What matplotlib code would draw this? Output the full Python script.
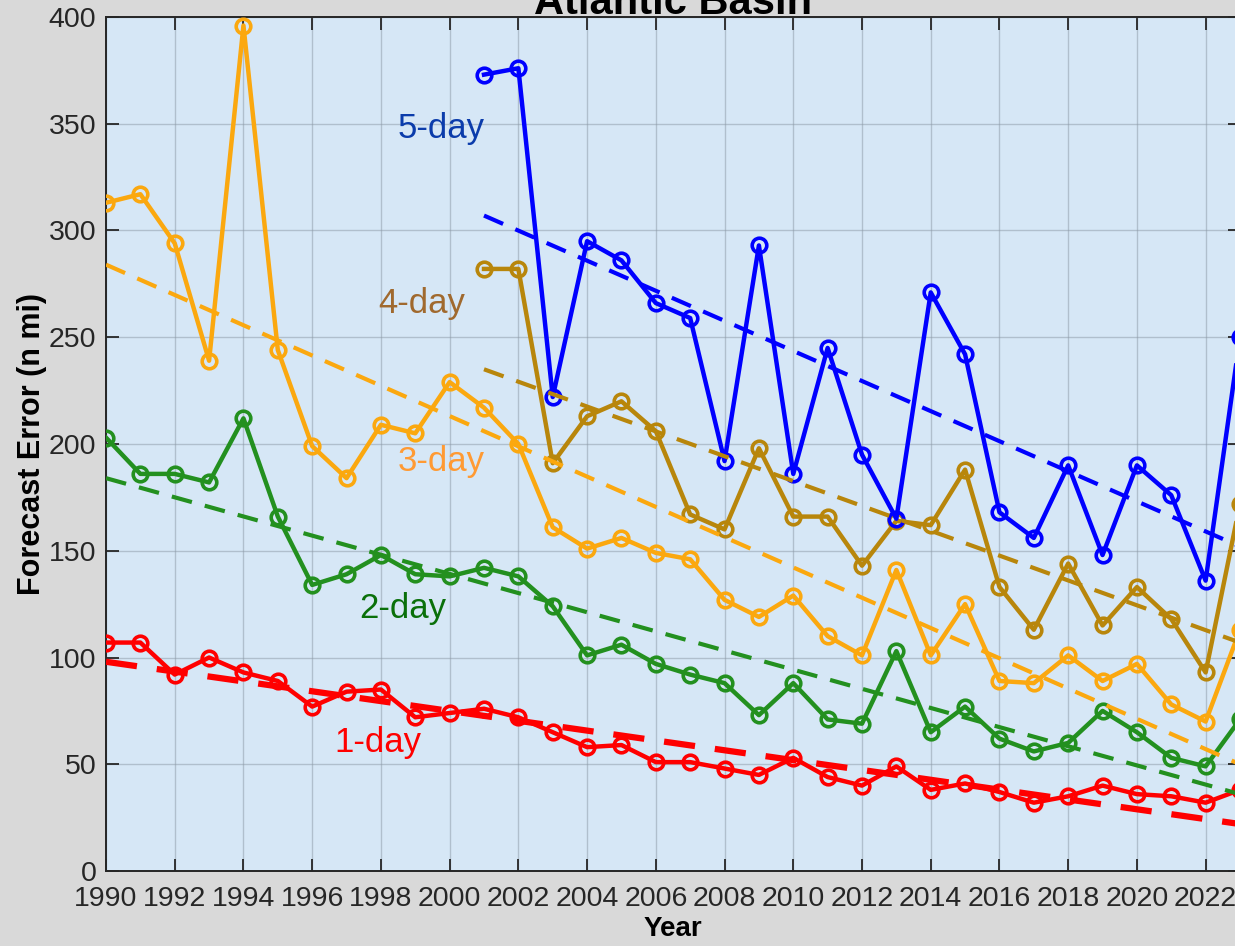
import numpy as np
import matplotlib
matplotlib.use("Agg")
import matplotlib.pyplot as plt

plt.rcParams['font.family'] = ['Liberation Sans', 'DejaVu Sans']

# NHC official track forecast errors, Atlantic basin
years = list(range(1990, 2024))
years_long = list(range(2001, 2024))

err_1day = [107, 107, 92, 100, 93, 89, 77, 84, 85, 72, 74, 76, 72, 65, 58, 59,
            51, 51, 48, 45, 53, 44, 40, 49, 38, 41, 37, 32, 35, 40, 36, 35, 32, 38]
err_2day = [203, 186, 186, 182, 212, 166, 134, 139, 148, 139, 138, 142, 138, 124, 101, 106,
            97, 92, 88, 73, 88, 71, 69, 103, 65, 77, 62, 56, 60, 75, 65, 53, 49, 71]
err_3day = [313, 317, 294, 239, 396, 244, 199, 184, 209, 205, 229, 217, 200, 161, 151, 156,
            149, 146, 127, 119, 129, 110, 101, 141, 101, 125, 89, 88, 101, 89, 97, 78, 70, 113]
err_4day = [282, 282, 191, 213, 220, 206, 167, 160, 198, 166, 166, 143, 164, 162, 188, 133,
            113, 144, 115, 133, 118, 93, 172]
err_5day = [373, 376, 222, 295, 286, 266, 259, 192, 293, 186, 245, 195, 165, 271, 242, 168,
            156, 190, 148, 190, 176, 136, 250]

# linear trend lines: value at first year and at 2023
trend_start = [98, 184, 284, 235, 307]
trend_end = [22, 36, 50, 107, 152]

labels = ["1-day", "2-day", "3-day", "4-day", "5-day"]
line_colors = ["#ff0000", "#23901f", "#fba80f", "#b8860b", "#0000ff"]
text_colors = ["#ff0000", "#0a700a", "#ff9a33", "#a0692e", "#0b3cab"]
label_x = [1997.9, 1998.65, 1999.75, 1999.2, 1999.75]
label_y = [60, 123, 192, 266, 348]

series = [err_1day, err_2day, err_3day, err_4day, err_5day]
xs = [years, years, years, years_long, years_long]

fig = plt.figure(figsize=(12.35, 9.46), dpi=100, facecolor="#d9d9d9")
ax = fig.add_axes([106 / 1235, 75 / 946, 1134 / 1235, 854 / 946])
ax.set_facecolor("#d6e7f6")

for i in range(5):
    ax.plot(xs[i], series[i], color=line_colors[i], lw=3.2, marker="o", ms=10.5,
            mfc="none", mew=2.6, zorder=3)
    x0, x1 = xs[i][0], xs[i][-1]
    ax.plot([x0, x1], [trend_start[i], trend_end[i]], color=line_colors[i],
            lw=4.5 if i == 0 else 3.0, ls=(0, (5, 3.2)), zorder=4)
    ax.text(label_x[i], label_y[i], labels[i], color=text_colors[i], fontsize=25,
            ha="center", va="center", zorder=5)

ax.set_xlim(1990, 2023)
ax.set_ylim(0, 400)
ax.set_xticks(range(1990, 2024, 2))
ax.set_yticks(range(0, 401, 50))
ax.tick_params(direction="in", length=9, width=1.3, top=True, right=True,
               labelsize=20.5, colors="#262626")
ax.tick_params(axis="x", pad=11)
ax.tick_params(axis="y", pad=7)
ax.grid(True, color="#8c99a6", lw=1.0, alpha=0.5)
ax.set_axisbelow(True)
for s in ax.spines.values():
    s.set_color("#262626")
    s.set_linewidth(1.4)

ax.set_xlabel("Year", fontsize=20, fontweight="bold", labelpad=3)
ax.set_ylabel("Forecast Error (n mi)", fontsize=22, fontweight="bold", labelpad=1)
ax.set_title("Atlantic Basin", fontsize=30, fontweight="bold", pad=2)

fig.savefig("out.png", dpi=100, facecolor=fig.get_facecolor())
